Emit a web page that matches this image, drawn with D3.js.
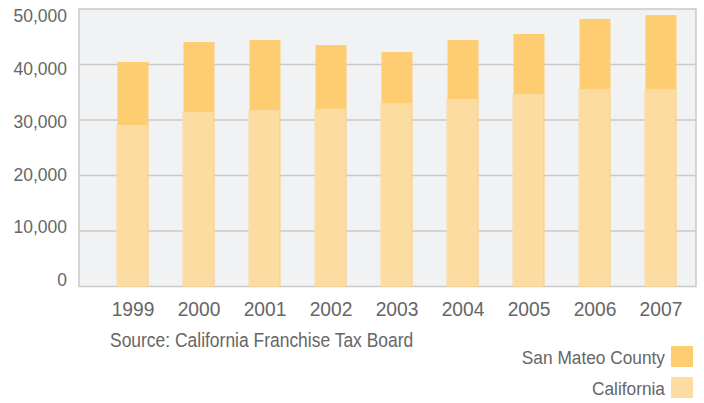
<!DOCTYPE html>
<html>
<head>
<meta charset="utf-8">
<script src="https://cdn.jsdelivr.net/npm/d3@7"></script>
<style>
  body { margin: 0; background: #fff; }
  text { font-family: "Liberation Sans", Arial, sans-serif; fill: #666; }
</style>
</head>
<body>
<div id="chart"></div>
<script>
const years = ['1999', '2000', '2001', '2002', '2003', '2004', '2005', '2006', '2007'];
const sanMateo = [40450, 44050, 44400, 43500, 42250, 44400, 45500, 48200, 48900];
const california = [29100, 31450, 31800, 32000, 33050, 33800, 34700, 35600, 35600];
const yTicks = [0, 10000, 20000, 30000, 40000, 50000];
const seriesNames = ['San Mateo County', 'California'];
const seriesColors = ['#fecd72', '#fddca2'];

const width = 704, height = 403;
const plot = { left: 79, right: 696, top: 9, bottom: 286.5 };

const svg = d3.select('#chart').append('svg')
  .attr('width', width)
  .attr('height', height);

const x = d3.scaleBand()
  .domain(years)
  .range([100, 694])
  .paddingInner(0.53)
  .paddingOuter(0.265);

const y = d3.scaleLinear()
  .domain([0, 50000])
  .range([plot.bottom, plot.top]);

// tick labels sit a little off the gridlines in the original
const labelY = d3.scaleLinear()
  .domain([0, 50000])
  .range([280, 16]);

// squeeze text horizontally around its anchor point
function squeeze(px, py, k) {
  return 'translate(' + px + ',' + py + ') scale(' + k + ',1) translate(' + (-px) + ',' + (-py) + ')';
}

// plot background
svg.append('rect')
  .attr('x', plot.left)
  .attr('y', plot.top)
  .attr('width', plot.right - plot.left)
  .attr('height', plot.bottom - plot.top)
  .attr('fill', '#f1f2f4')
  .attr('stroke', '#c9c9c9')
  .attr('stroke-width', 1.5);

// gridlines
svg.append('g')
  .selectAll('line')
  .data(yTicks.slice(1, -1))
  .enter().append('line')
  .attr('x1', plot.left)
  .attr('x2', plot.right)
  .attr('y1', d => y(d))
  .attr('y2', d => y(d))
  .attr('stroke', '#c9c9c9')
  .attr('stroke-width', 1.5);

// y labels
svg.append('g')
  .selectAll('text')
  .data(yTicks)
  .enter().append('text')
  .attr('x', 67)
  .attr('y', d => labelY(d))
  .attr('dy', '0.35em')
  .attr('text-anchor', 'end')
  .style('font-size', '17.5px')
  .text(d => d3.format(',')(d));

// back bars: San Mateo County
svg.append('g')
  .selectAll('rect')
  .data(sanMateo)
  .enter().append('rect')
  .attr('x', (d, i) => x(years[i]))
  .attr('y', d => y(d))
  .attr('width', x.bandwidth())
  .attr('height', d => y(0) - y(d))
  .attr('fill', seriesColors[0]);

// front bars: California
svg.append('g')
  .selectAll('rect')
  .data(california)
  .enter().append('rect')
  .attr('x', (d, i) => x(years[i]) - 1)
  .attr('y', d => y(d))
  .attr('width', x.bandwidth())
  .attr('height', d => y(0) - y(d))
  .attr('fill', seriesColors[1]);

// x labels
svg.append('g')
  .selectAll('text')
  .data(years)
  .enter().append('text')
  .attr('x', d => x(d) + x.bandwidth() / 2)
  .attr('y', 316)
  .attr('text-anchor', 'middle')
  .attr('transform', d => squeeze(x(d) + x.bandwidth() / 2, 316, 0.915))
  .style('font-size', '21px')
  .text(d => d);

// source note
svg.append('text')
  .attr('x', 110)
  .attr('y', 347)
  .attr('transform', squeeze(110, 347, 0.895))
  .style('font-size', '19.5px')
  .text('Source: California Franchise Tax Board');

// legend
const legend = svg.append('g')
  .selectAll('g')
  .data(seriesNames)
  .enter().append('g')
  .attr('transform', (d, i) => 'translate(0,' + (i * 31) + ')');

legend.append('rect')
  .attr('x', 671)
  .attr('y', 346)
  .attr('width', 22)
  .attr('height', 21)
  .attr('fill', (d, i) => seriesColors[i]);

legend.append('text')
  .attr('x', 665)
  .attr('y', 364)
  .attr('text-anchor', 'end')
  .attr('transform', squeeze(665, 364, 0.91))
  .style('font-size', '19px')
  .text(d => d);
</script>
</body>
</html>
